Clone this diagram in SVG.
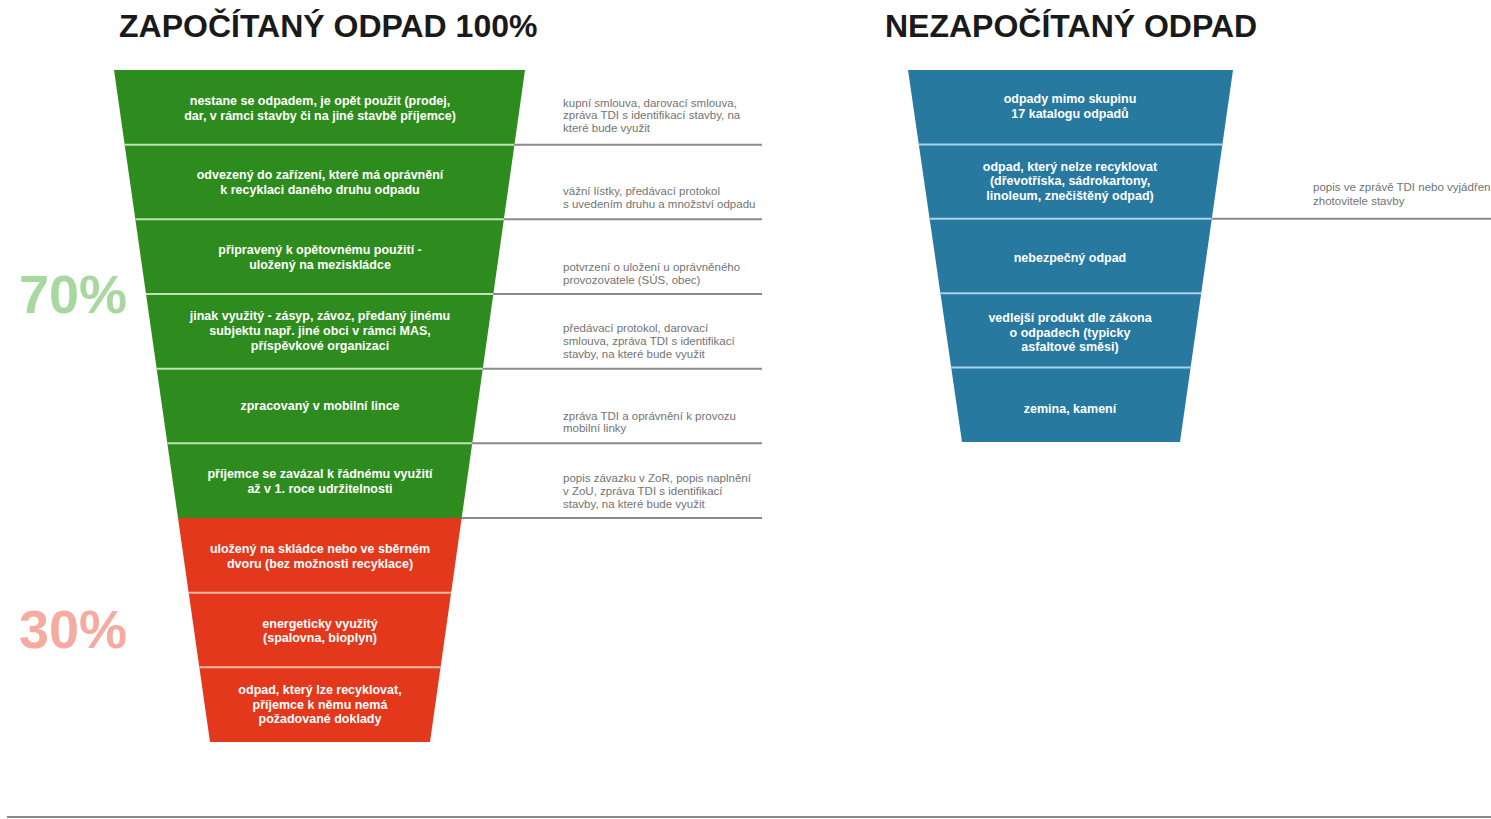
<svg xmlns="http://www.w3.org/2000/svg" width="1491" height="819" viewBox="0 0 1491 819">
<style>
.title{font-family:"Liberation Sans",Arial,sans-serif;font-weight:700;font-size:32px;fill:#1a1a1a}
.pct{font-family:"Liberation Sans",Arial,sans-serif;font-weight:700;font-size:54px}
.seg{font-family:"Liberation Sans",Arial,sans-serif;font-weight:700;font-size:12.5px;fill:#ffffff;text-anchor:middle}
.note{font-family:"Liberation Sans",Arial,sans-serif;font-size:11.5px;fill:#737373}
.g{fill:#2e8b1d}
.r{fill:#e3381c}
.b{fill:#2779a0}
.sepg{stroke:#bfe3b3;stroke-width:2}
.sepr{stroke:#f6b9a8;stroke-width:2}
.sepb{stroke:#a9d3ea;stroke-width:2}
.conn{stroke:#8a8a8a;stroke-width:2;fill:none}
</style>
<rect width="1491" height="819" fill="#ffffff"/>
<text class="title" x="119" y="37">ZAPOČÍTANÝ ODPAD 100%</text>
<text class="title" x="885" y="37">NEZAPOČÍTANÝ ODPAD</text>
<text class="pct" x="19" y="313" fill="#a9d7a0">70%</text>
<text class="pct" x="19" y="648" fill="#f5ab9f">30%</text>

<g id="connectors">
<line class="conn" x1="514" y1="144.7" x2="762" y2="144.7"/>
<line class="conn" x1="503" y1="219.3" x2="762" y2="219.3"/>
<line class="conn" x1="493" y1="294" x2="762" y2="294"/>
<line class="conn" x1="482" y1="368.7" x2="762" y2="368.7"/>
<line class="conn" x1="472" y1="443.3" x2="762" y2="443.3"/>
<line class="conn" x1="461" y1="518" x2="762" y2="518"/>
<line class="conn" x1="1211" y1="218.8" x2="1491" y2="218.8"/>
<line class="conn" x1="7" y1="817" x2="1491" y2="817"/>
</g>

<g id="n1"><polygon class="g" points="114,70 525,70 514.44,144.67 124.67,144.67"/>
<text class="seg" x="320" y="105">nestane se odpadem, je opět použit (prodej,</text>
<text class="seg" x="320" y="120">dar, v rámci stavby či na jiné stavbě příjemce)</text></g>
<g id="n2"><polygon class="g" points="124.67,144.67 514.44,144.67 503.89,219.33 135.33,219.33"/>
<text class="seg" x="320" y="179">odvezený do zařízení, které má oprávnění</text>
<text class="seg" x="320" y="194">k recyklaci daného druhu odpadu</text></g>
<g id="n3"><polygon class="g" points="135.33,219.33 503.89,219.33 493.33,294 146,294"/>
<text class="seg" x="320" y="254">připravený k opětovnému použití -</text>
<text class="seg" x="320" y="269">uložený na meziskládce</text></g>
<g id="n4"><polygon class="g" points="146,294 493.33,294 482.78,368.67 156.67,368.67"/>
<text class="seg" x="320" y="320">jinak využitý - zásyp, závoz, předaný jinému</text>
<text class="seg" x="320" y="335">subjektu např. jiné obci v rámci MAS,</text>
<text class="seg" x="320" y="350">příspěvkové organizaci</text></g>
<g id="n5"><polygon class="g" points="156.67,368.67 482.78,368.67 472.22,443.33 167.33,443.33"/>
<text class="seg" x="320" y="410">zpracovaný v mobilní lince</text></g>
<g id="n6"><polygon class="g" points="167.33,443.33 472.22,443.33 461.67,518 178,518"/>
<text class="seg" x="320" y="478">příjemce se zavázal k řádnému využití</text>
<text class="seg" x="320" y="493">až v 1. roce udržitelnosti</text></g>
<g id="n7"><polygon class="r" points="178,518 461.67,518 451.11,592.67 188.67,592.67"/>
<text class="seg" x="320" y="553">uložený na skládce nebo ve  sběrném</text>
<text class="seg" x="320" y="568">dvoru (bez možnosti recyklace)</text></g>
<g id="n8"><polygon class="r" points="188.67,592.67 451.11,592.67 440.56,667.33 199.33,667.33"/>
<text class="seg" x="320" y="628">energeticky využitý</text>
<text class="seg" x="320" y="642">(spalovna, bioplyn)</text></g>
<g id="n9"><polygon class="r" points="199.33,667.33 440.56,667.33 430,742 210,742"/>
<text class="seg" x="320" y="694">odpad, který lze recyklovat,</text>
<text class="seg" x="320" y="709">příjemce k němu nemá</text>
<text class="seg" x="320" y="723">požadované doklady</text></g>

<g id="separators-left">
<line class="sepg" x1="124.67" y1="144.67" x2="514.44" y2="144.67"/>
<line class="sepg" x1="135.33" y1="219.33" x2="503.89" y2="219.33"/>
<line class="sepg" x1="146" y1="294" x2="493.33" y2="294"/>
<line class="sepg" x1="156.67" y1="368.67" x2="482.78" y2="368.67"/>
<line class="sepg" x1="167.33" y1="443.33" x2="472.22" y2="443.33"/>
<line class="sepr" x1="188.67" y1="592.67" x2="451.11" y2="592.67"/>
<line class="sepr" x1="199.33" y1="667.33" x2="440.56" y2="667.33"/>
</g>

<g id="notes">
<text class="note" x="563" y="107">kupní smlouva, darovací smlouva,</text>
<text class="note" x="563" y="119">zpráva TDI s identifikací stavby, na</text>
<text class="note" x="563" y="132">které bude využit</text>
<text class="note" x="563" y="195">vážní lístky, předávací protokol</text>
<text class="note" x="563" y="208">s uvedením druhu a množství odpadu</text>
<text class="note" x="563" y="271">potvrzení o uložení u oprávněného</text>
<text class="note" x="563" y="284">provozovatele (SÚS, obec)</text>
<text class="note" x="563" y="332">předávací protokol, darovací</text>
<text class="note" x="563" y="345">smlouva, zpráva TDI s identifikací</text>
<text class="note" x="563" y="358">stavby, na které bude využit</text>
<text class="note" x="563" y="420">zpráva TDI a oprávnění k provozu</text>
<text class="note" x="563" y="432">mobilní linky</text>
<text class="note" x="563" y="482">popis závazku v ZoR, popis naplnění</text>
<text class="note" x="563" y="495">v ZoU, zpráva TDI s identifikací</text>
<text class="note" x="563" y="508">stavby, na které bude využit</text>
<text class="note" x="1313" y="191">popis ve zprávě TDI nebo vyjádření</text>
<text class="note" x="1313" y="205">zhotovitele stavby</text>
</g>

<g id="r1"><polygon class="b" points="908,70 1233,70 1222.4,144.4 918.8,144.4"/>
<text class="seg" x="1070" y="103">odpady mimo skupinu</text>
<text class="seg" x="1070" y="118">17 katalogu odpadů</text></g>
<g id="r2"><polygon class="b" points="918.8,144.4 1222.4,144.4 1211.8,218.8 929.6,218.8"/>
<text class="seg" x="1070" y="171">odpad, který nelze recyklovat</text>
<text class="seg" x="1070" y="185">(dřevotříska, sádrokartony,</text>
<text class="seg" x="1070" y="200">linoleum, znečištěný odpad)</text></g>
<g id="r3"><polygon class="b" points="929.6,218.8 1211.8,218.8 1201.2,293.2 940.4,293.2"/>
<text class="seg" x="1070" y="262">nebezpečný odpad</text></g>
<g id="r4"><polygon class="b" points="940.4,293.2 1201.2,293.2 1190.6,367.6 951.2,367.6"/>
<text class="seg" x="1070" y="322">vedlejší produkt dle zákona</text>
<text class="seg" x="1070" y="337">o odpadech (typicky</text>
<text class="seg" x="1070" y="351">asfaltové směsi)</text></g>
<g id="r5"><polygon class="b" points="951.2,367.6 1190.6,367.6 1180,442 962,442"/>
<text class="seg" x="1070" y="413">zemina, kamení</text></g>

<g id="separators-right">
<line class="sepb" x1="918.8" y1="144.4" x2="1222.4" y2="144.4"/>
<line class="sepb" x1="929.6" y1="218.8" x2="1211.8" y2="218.8"/>
<line class="sepb" x1="940.4" y1="293.2" x2="1201.2" y2="293.2"/>
<line class="sepb" x1="951.2" y1="367.6" x2="1190.6" y2="367.6"/>
</g>
</svg>
